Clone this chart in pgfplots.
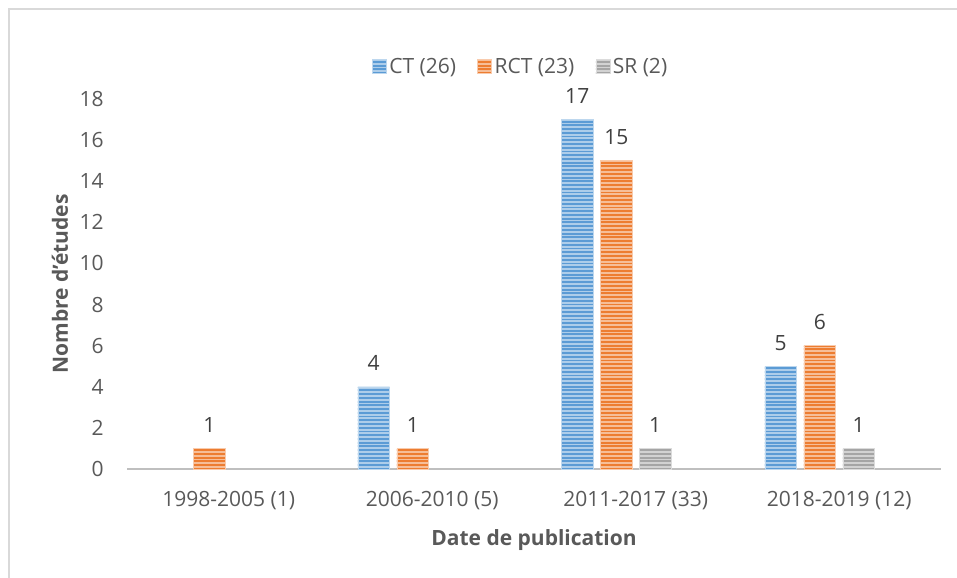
\documentclass[border=0pt]{standalone}
\usepackage{fontspec}
\setmainfont{Open Sans}
\usepackage{pgfplots}
\pgfplotsset{compat=1.18}
\usetikzlibrary{patterns}
\definecolor{cblue}{HTML}{5B9BD5}
\definecolor{corange}{HTML}{ED7D31}
\definecolor{cgray}{HTML}{A5A5A5}
\definecolor{txt}{HTML}{595959}
\definecolor{lbl}{HTML}{404040}
\definecolor{frame}{HTML}{D9D9D9}
\definecolor{axisc}{HTML}{BFBFBF}
\pgfdeclarepatternformonly{hstripes}{\pgfpoint{-1pt}{0pt}}{\pgfpoint{801pt}{2.8pt}}{\pgfpoint{800pt}{2.8pt}}{%
  \pgfpathrectangle{\pgfpoint{-1pt}{0pt}}{\pgfpoint{802pt}{1.4pt}}\pgfusepath{fill}}
\pgfplotsset{
  barstyle/.style={fill=#1!50!white, draw=#1!40!white, line width=0.4pt,
    postaction={pattern=hstripes, pattern color=#1}},
}
\begin{document}
\fontsize{15.75}{19}\selectfont
\begin{tikzpicture}[x=0.75pt,y=0.75pt]
\useasboundingbox (0,0) rectangle (957,578);
\draw[color=frame, line width=1.5pt] (9,-5) -- (9,569) -- (962,569);
\begin{axis}[
  at={(95.25pt,81.75pt)}, anchor=south west,
  width=610.5pt, height=277.5pt, scale only axis,
  xmin=-0.5, xmax=3.5, ymin=0, ymax=18,
  ytick={0,2,...,18},
  xtick={0,1,2,3},
  xticklabels={1998-2005 (1),2006-2010 (5),2011-2017 (33),2018-2019 (12)},
  /pgf/number format/assume math mode=true,
  major tick length=0pt,
  axis x line*=bottom, axis y line*=left,
  x axis line style={draw=axisc, line width=2pt, -},
  y axis line style={draw=none},
  tick label style={font=\fontsize{15.75}{19}\selectfont, text=txt, inner sep=0pt},
  xticklabel style={anchor=base, yshift=-28.5pt},
  yticklabel style={anchor=base east, xshift=-17.25pt, yshift=-5.6pt},
  ylabel={Nombre d'études},
  xlabel={Date de publication},
  label style={font=\fontsize{15.75}{19}\selectfont\bfseries, text=txt},
  ylabel style={at={(axis description cs:-0.0823,0.5)}, anchor=center},
  xlabel style={at={(axis description cs:0.5,-0.192)}, anchor=center},
  ybar, bar width=0.157,
  nodes near coords,
  every node near coord/.append style={font=\fontsize{15.75}{19}\selectfont, text=lbl, anchor=base, inner sep=0pt, yshift=12pt},
  legend columns=3,
  legend style={at={(axis description cs:0.484,1.0865)}, anchor=center, draw=none, fill=none,
    font=\fontsize{15.75}{19}\selectfont, text=txt,
    /tikz/every even column/.append style={column sep=14pt}},
  legend image code/.code={\draw[#1] (0pt,-5pt) rectangle (10.5pt,5.5pt);},
  clip=false,
]
\addplot[barstyle=cblue, bar shift=-0.2875] coordinates {(1,4) (2,17) (3,5)};
\addplot[barstyle=corange, bar shift=-0.0958] coordinates {(0,1) (1,1) (2,15) (3,6)};
\addplot[barstyle=cgray, bar shift=0.0958] coordinates {(2,1) (3,1)};
\legend{CT (26),RCT (23),SR (2)}
\end{axis}
\end{tikzpicture}
\end{document}
